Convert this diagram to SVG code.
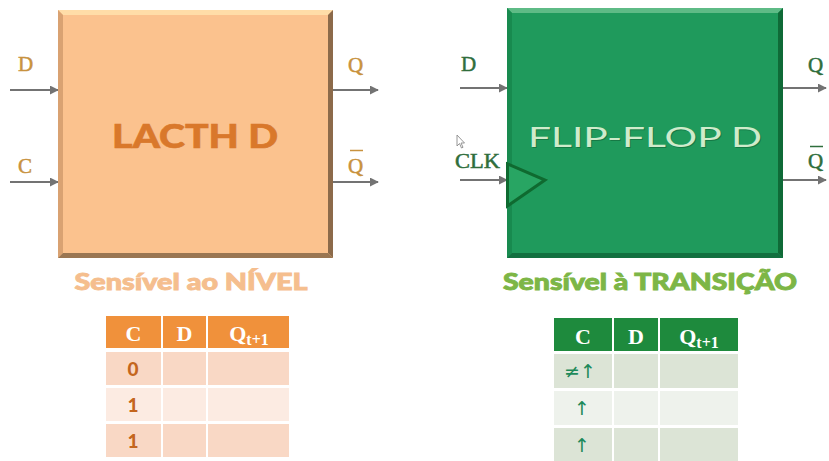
<svg xmlns="http://www.w3.org/2000/svg" width="829" height="461" viewBox="0 0 829 461">
  <defs>
    <marker id="arrow" viewBox="0 0 10 10" refX="9" refY="5" markerWidth="4.5" markerHeight="4.5" orient="auto" markerUnits="strokeWidth">
      <path d="M0,0 L10,5 L0,10 z" fill="#737373"/>
    </marker>
  </defs>
  <style>
    .wire { stroke: #737373; stroke-width: 2; fill: none; marker-end: url(#arrow); }
    .pinL { font-family: "Liberation Serif", serif; font-size: 21px; fill: #C8923E; stroke: #C8923E; stroke-width: 0.5; }
    .pinR { font-family: "Liberation Serif", serif; font-size: 21px; fill: #2F6E3C; stroke: #2F6E3C; stroke-width: 0.5; }
    .title { font-family: "Lato", "Open Sans", sans-serif; text-anchor: middle; }
    .sub { font-family: "Lato", "Open Sans", sans-serif; font-weight: 900; font-size: 23px; text-anchor: middle; stroke-width: 0.9; }
    .th { font-family: "Liberation Serif", serif; font-weight: bold; font-size: 22px; fill: #FFFFFF; text-anchor: middle; }
    .td { font-family: "Lato", "Open Sans", sans-serif; font-weight: 900; font-size: 19px; text-anchor: middle; }
    .arr { font-family: "DejaVu Sans", sans-serif; font-size: 19px; fill: #1E8A5A; text-anchor: middle; }
    .cell { stroke: #FFFFFF; stroke-width: 2; }
  </style>

  <rect width="829" height="461" fill="#FFFFFF"/>

  <!-- Connectors -->
  <g id="connectors">
    <line class="wire" x1="10" y1="90" x2="58" y2="90"/>
    <line class="wire" x1="10" y1="182" x2="58" y2="182"/>
    <line class="wire" x1="333" y1="90" x2="378" y2="90"/>
    <line class="wire" x1="333" y1="182" x2="378" y2="182"/>
    <line class="wire" x1="460" y1="88" x2="507" y2="88"/>
    <line class="wire" x1="460" y1="180" x2="507" y2="180"/>
    <line class="wire" x1="783" y1="88" x2="826" y2="88"/>
    <line class="wire" x1="783" y1="180" x2="826" y2="180"/>
  </g>

  <!-- D latch block -->
  <g id="latch">
    <rect x="58" y="10" width="275" height="248" fill="#FBC28E"/>
    <polygon points="58,10 333,10 328,15 63,15" fill="#FFDDA8"/>
    <polygon points="58,10 63,15 63,253 58,258" fill="#D9A272"/>
    <polygon points="333,10 333,258 328,253 328,15" fill="#8C6A4A"/>
    <polygon points="58,258 333,258 328,253 63,253" fill="#9A7652"/>
    <text class="title" x="195" y="148" font-size="32" font-weight="900" fill="#D9782B" stroke="#D9782B" stroke-width="0.6" textLength="166" lengthAdjust="spacingAndGlyphs">LACTH D</text>
    <text class="sub" x="191" y="290" fill="#F5BE8E" stroke="#F5BE8E" textLength="233" lengthAdjust="spacingAndGlyphs">Sensível ao NÍVEL</text>
  </g>

  <g id="latch-pins">
    <text class="pinL" x="18" y="71">D</text>
    <text class="pinL" x="18" y="173">C</text>
    <text class="pinL" x="348" y="72">Q</text>
    <text class="pinL" x="348" y="173">Q</text>
    <line x1="350" y1="150.5" x2="363" y2="150.5" stroke="#C8923E" stroke-width="1.5"/>
  </g>

  <!-- D flip-flop block -->
  <g id="flipflop">
    <rect x="507" y="8" width="276" height="250" fill="#1F9A5C"/>
    <polygon points="507,8 783,8 778,13 512,13" fill="#5EBB86"/>
    <polygon points="507,8 512,13 512,253 507,258" fill="#188A4F"/>
    <polygon points="783,8 783,258 778,253 778,13" fill="#0F6A37"/>
    <polygon points="507,258 783,258 778,253 512,253" fill="#127040"/>
    <polygon points="507.5,164 545,180 507.5,206" fill="#28A563" stroke="#0F6A30" stroke-width="3" stroke-linejoin="miter"/>
    <text class="title" x="646" y="148" font-size="27" fill="#0E5A30" opacity="0.5" textLength="234" lengthAdjust="spacingAndGlyphs">FLIP-FLOP D</text>
    <text class="title" x="645" y="147" font-size="27" fill="#CFEBCB" textLength="234" lengthAdjust="spacingAndGlyphs">FLIP-FLOP D</text>
    <text class="sub" x="650" y="290" fill="#7DB646" stroke="#7DB646" textLength="294" lengthAdjust="spacingAndGlyphs">Sensível à TRANSIÇÃO</text>
  </g>

  <g id="flipflop-pins">
    <text class="pinR" x="461" y="71">D</text>
    <text class="pinR" x="455" y="168" textLength="45" lengthAdjust="spacingAndGlyphs">CLK</text>
    <text class="pinR" x="808" y="72">Q</text>
    <text class="pinR" x="808" y="168">Q</text>
    <line x1="810" y1="146.5" x2="823" y2="146.5" stroke="#2F6E3C" stroke-width="1.5"/>
  </g>

  <!-- mouse pointer -->
  <path d="M457,135 L457,146 L459.5,143.5 L461.5,148 L463,147.3 L461,143 L464.5,143 Z" fill="#FFFFFF" stroke="#8A8A8A" stroke-width="0.9"/>

  <!-- Truth table: latch -->
  <g id="latch-table">
    <rect class="cell" x="105" y="315" width="57" height="34" fill="#F0913B"/>
    <rect class="cell" x="162" y="315" width="45" height="34" fill="#F0913B"/>
    <rect class="cell" x="207" y="315" width="83" height="34" fill="#F0913B"/>
    <rect class="cell" x="105" y="351" width="57" height="35" fill="#F9D8C5"/>
    <rect class="cell" x="162" y="351" width="45" height="35" fill="#F9D8C5"/>
    <rect class="cell" x="207" y="351" width="83" height="35" fill="#F9D8C5"/>
    <rect class="cell" x="105" y="387" width="57" height="35" fill="#FCEBE2"/>
    <rect class="cell" x="162" y="387" width="45" height="35" fill="#FCEBE2"/>
    <rect class="cell" x="207" y="387" width="83" height="35" fill="#FCEBE2"/>
    <rect class="cell" x="105" y="423" width="57" height="35" fill="#F9D8C5"/>
    <rect class="cell" x="162" y="423" width="45" height="35" fill="#F9D8C5"/>
    <rect class="cell" x="207" y="423" width="83" height="35" fill="#F9D8C5"/>
    <text class="th" x="133.5" y="341">C</text>
    <text class="th" x="184.5" y="341">D</text>
    <text class="th" x="249" y="341">Q<tspan font-size="16" dy="4">t+1</tspan></text>
    <text class="td" x="133" y="376" fill="#C4661E">0</text>
    <text class="td" x="133" y="412" fill="#C4661E">1</text>
    <text class="td" x="133" y="448" fill="#C4661E">1</text>
  </g>

  <!-- Truth table: flip-flop -->
  <g id="flipflop-table">
    <rect class="cell" x="553" y="317" width="60" height="35" fill="#1E8A3D"/>
    <rect class="cell" x="613" y="317" width="46" height="35" fill="#1E8A3D"/>
    <rect class="cell" x="659" y="317" width="80" height="35" fill="#1E8A3D"/>
    <rect class="cell" x="553" y="353" width="60" height="36" fill="#DCE4D6"/>
    <rect class="cell" x="613" y="353" width="46" height="36" fill="#DCE4D6"/>
    <rect class="cell" x="659" y="353" width="80" height="36" fill="#DCE4D6"/>
    <rect class="cell" x="553" y="390" width="60" height="36" fill="#EEF2EC"/>
    <rect class="cell" x="613" y="390" width="46" height="36" fill="#EEF2EC"/>
    <rect class="cell" x="659" y="390" width="80" height="36" fill="#EEF2EC"/>
    <rect class="cell" x="553" y="427" width="60" height="36" fill="#DCE4D6"/>
    <rect class="cell" x="613" y="427" width="46" height="36" fill="#DCE4D6"/>
    <rect class="cell" x="659" y="427" width="80" height="36" fill="#DCE4D6"/>
    <text class="th" x="583" y="344">C</text>
    <text class="th" x="636" y="344">D</text>
    <text class="th" x="699" y="344">Q<tspan font-size="16" dy="4">t+1</tspan></text>
    <text class="arr" x="580" y="378">≠↑</text>
    <text class="arr" x="582" y="415">↑</text>
    <text class="arr" x="582" y="452">↑</text>
  </g>
</svg>
